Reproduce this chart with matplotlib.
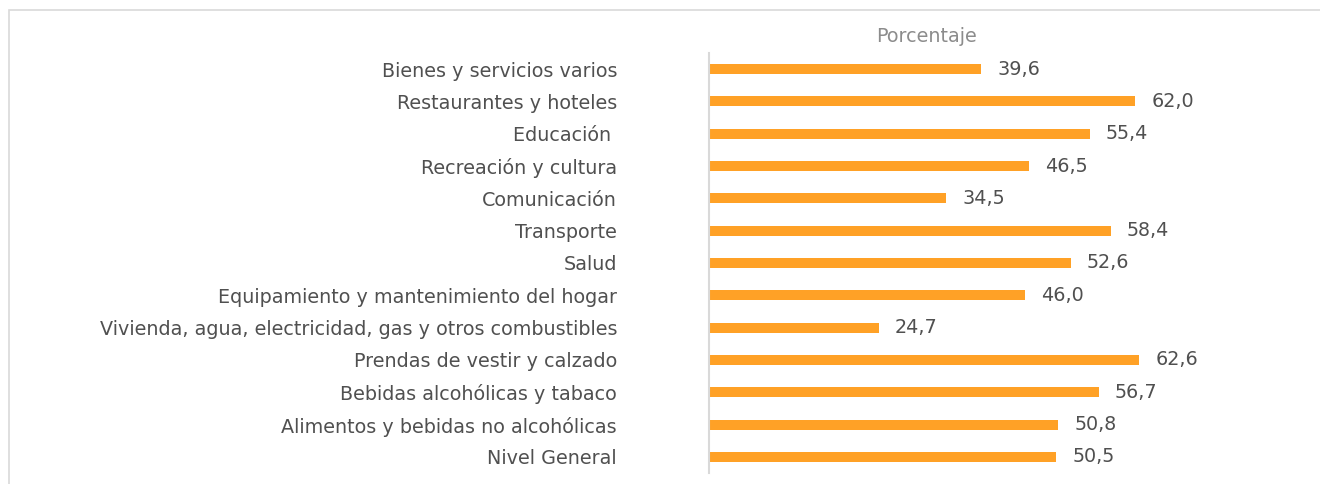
import matplotlib.pyplot as plt
from matplotlib.patches import Rectangle

categories = [
    "Bienes y servicios varios",
    "Restaurantes y hoteles",
    "Educación ",
    "Recreación y cultura",
    "Comunicación",
    "Transporte",
    "Salud",
    "Equipamiento y mantenimiento del hogar",
    "Vivienda, agua, electricidad, gas y otros combustibles",
    "Prendas de vestir y calzado",
    "Bebidas alcohólicas y tabaco",
    "Alimentos y bebidas no alcohólicas",
    "Nivel General",
]
values = [39.6, 62.0, 55.4, 46.5, 34.5, 58.4, 52.6, 46.0, 24.7, 62.6, 56.7, 50.8, 50.5]

plt.rcParams['font.family'] = ['DejaVu Sans']

W, H = 1320, 484
fig = plt.figure(figsize=(W / 100, H / 100), dpi=100)

# outer frame like the spreadsheet chart area
fig.patches.append(Rectangle((9 / W, -0.1), 1.2, 1 - 10 / H + 0.1, transform=fig.transFigure,
                             fill=False, edgecolor='#d9d9d9', linewidth=1.2))

ax = fig.add_axes([709 / W, (H - 473) / H, 550 / W, (473 - 53) / H])
y = list(range(len(categories)))[::-1]
ax.barh(y, values, height=0.31, color='#ffa126')
ax.set_xlim(0, 80)
ax.set_ylim(-0.5, len(categories) - 0.5)
ax.set_yticks(y)
ax.set_yticklabels(categories, fontsize=13.8, color='#505050')
ax.tick_params(axis='y', length=0, pad=92 * 0.72)
ax.set_xticks([])
for s in ['top', 'right', 'bottom']:
    ax.spines[s].set_visible(False)
ax.spines['left'].set_color('#d9d9d9')
ax.spines['left'].set_linewidth(1.5)

for yi, v in zip(y, values):
    ax.annotate(f"{v:.1f}".replace('.', ','), (v, yi), xytext=(16, 0), textcoords='offset pixels',
                va='center', ha='left', fontsize=13.8, color='#505050')

fig.text(926 / W, 1 - 37 / H, "Porcentaje", ha='center', va='center', fontsize=13.8,
         color='#8c8c8c')

fig.savefig('out.png', dpi=100)
